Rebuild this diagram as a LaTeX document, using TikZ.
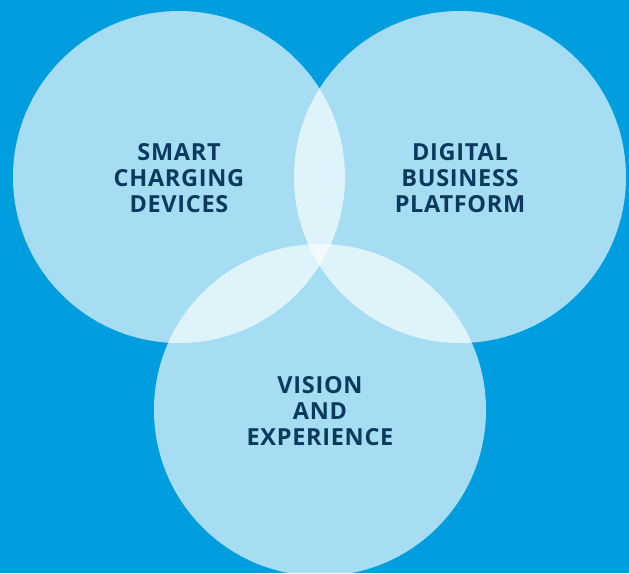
\documentclass[tikz,border=0pt]{standalone}
\usepackage{fontspec}
\setmainfont{Open Sans}[LetterSpace=3]
\definecolor{skyblue}{HTML}{009EDE}
\definecolor{navytext}{HTML}{0B3A5E}
\tikzset{
  bubble/.style={fill=white,fill opacity=.65,draw=none},
  bubbletext/.style={text=navytext,align=center,yshift=-1pt,font=\fontsize{23.5}{26}\selectfont\bfseries}
}
\begin{document}
\begin{tikzpicture}[x=1pt,y=-1pt]
				\fill [skyblue] (0,0) rectangle (629,573);
				\useasboundingbox (0,0) rectangle (629,573);
				\foreach \cx/\cy/\name in {179/177/smart,460/177/digital,320/410/vision}
					\fill [bubble] (\cx,\cy) circle (166) coordinate (\name);
				\node [bubbletext] (smarttext) at (smart) {SMART\\CHARGING\\DEVICES};
				\node [bubbletext] (digitaltext) at (digital) {DIGITAL\\BUSINESS\\PLATFORM};
				\node [bubbletext] (visiontext) at (vision) {VISION\\AND\\EXPERIENCE};
			\end{tikzpicture}
\end{document}
